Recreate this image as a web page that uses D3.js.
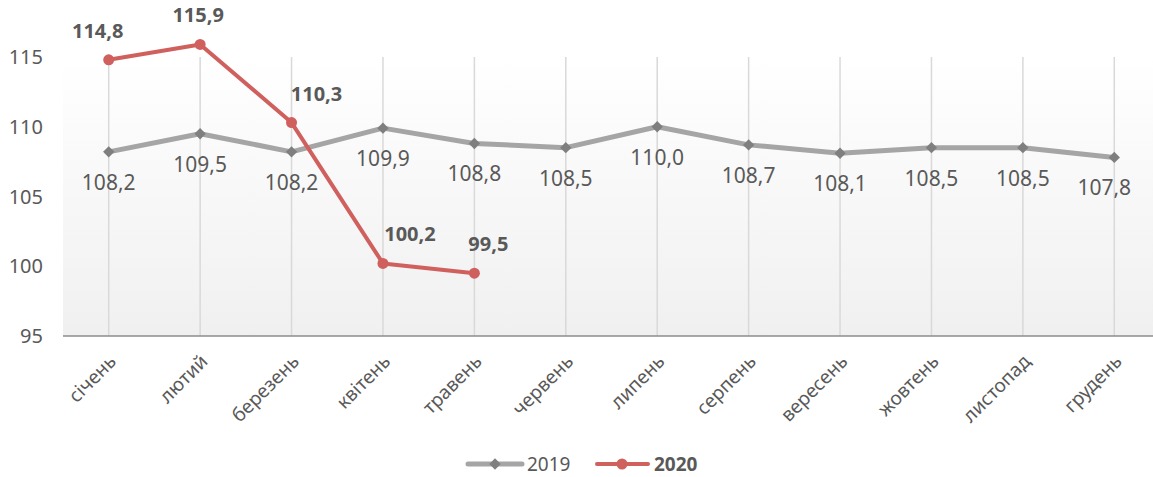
<!DOCTYPE html>
<html>
<head>
<meta charset="utf-8">
<script src="https://cdn.jsdelivr.net/npm/d3@7"></script>
<style>
  body { margin: 0; background: #fff; overflow: hidden; }
  svg { font-family: "Noto Sans", "Open Sans", sans-serif; display: block; }
</style>
</head>
<body>
<div id="chart"></div>
<script>
// Data
var months = ["січень", "лютий", "березень", "квітень", "травень", "червень",
  "липень", "серпень", "вересень", "жовтень", "листопад", "грудень"];
var values2019 = [108.2, 109.5, 108.2, 109.9, 108.8, 108.5, 110.0, 108.7, 108.1, 108.5, 108.5, 107.8];
var values2020 = [114.8, 115.9, 110.3, 100.2, 99.5];
var yTicks = [95, 100, 105, 110, 115];
// nudges for the bold 2020 labels (px)
var label2020Dx = [-11, -2, 25, 27, 14];

var svgWidth = 1153;
var svgHeight = 477;

var svg = d3.select("#chart")
  .append("svg")
  .attr("width", svgWidth)
  .attr("height", svgHeight);

var plotLeft = 63, plotRight = 1160, plotTop = 57, plotBottom = 336;

var x = d3.scaleBand()
  .domain(months)
  .range([plotLeft, plotRight]);

var y = d3.scaleLinear()
  .domain([95, 115])
  .range([plotBottom, plotTop]);

var cx = d => x(d) + x.bandwidth() / 2;

// background gradient
var defs = svg.append("defs");
var grad = defs.append("linearGradient")
  .attr("id", "bg")
  .attr("x1", 0).attr("y1", 0).attr("x2", 0).attr("y2", 1);
grad.append("stop").attr("offset", "0%").attr("stop-color", "#ffffff");
grad.append("stop").attr("offset", "100%").attr("stop-color", "#f0f0f0");

svg.append("rect")
  .attr("x", plotLeft)
  .attr("y", plotTop)
  .attr("width", plotRight - plotLeft)
  .attr("height", plotBottom - plotTop)
  .attr("fill", "url(#bg)");

// vertical gridlines
svg.append("g")
  .selectAll("line")
  .data(months)
  .enter().append("line")
  .attr("x1", d => cx(d))
  .attr("x2", d => cx(d))
  .attr("y1", plotTop)
  .attr("y2", plotBottom)
  .attr("stroke", "#d9d9d9")
  .attr("stroke-width", 1.5);

// y axis labels
svg.append("g")
  .selectAll("text")
  .data(yTicks)
  .enter().append("text")
  .attr("x", 43)
  .attr("y", d => y(d))
  .attr("dy", "0.35em")
  .attr("text-anchor", "end")
  .attr("font-size", "20px")
  .attr("fill", "#595959")
  .text(d => d);

// x axis line
svg.append("line")
  .attr("x1", plotLeft)
  .attr("x2", plotRight)
  .attr("y1", plotBottom)
  .attr("y2", plotBottom)
  .attr("stroke", "#8c8c8c")
  .attr("stroke-width", 1.5);

// x axis labels
svg.append("g")
  .selectAll("text")
  .data(months)
  .enter().append("text")
  .attr("transform", d => `translate(${cx(d) + 4}, ${plotBottom + 22}) rotate(-45)`)
  .attr("text-anchor", "end")
  .attr("dy", "0.35em")
  .attr("font-size", "19px")
  .attr("fill", "#595959")
  .text(d => d);

var line = d3.line()
  .x((d, i) => cx(months[i]))
  .y(d => y(d));

// 2019
svg.append("path")
  .datum(values2019)
  .attr("d", line)
  .attr("fill", "none")
  .attr("stroke", "#a5a5a5")
  .attr("stroke-width", 5)
  .attr("stroke-linejoin", "round");

svg.append("g")
  .selectAll("path")
  .data(values2019)
  .enter().append("path")
  .attr("d", d3.symbol().type(d3.symbolSquare).size(64))
  .attr("transform", (d, i) => `translate(${cx(months[i])}, ${y(d)}) rotate(45)`)
  .attr("fill", "#7f7f7f");

svg.append("g")
  .selectAll("text")
  .data(values2019)
  .enter().append("text")
  .attr("x", (d, i) => cx(months[i]) + (i === 11 ? -10 : 0))
  .attr("y", d => y(d) + 38)
  .attr("text-anchor", "middle")
  .attr("font-size", "21px")
  .attr("fill", "#595959")
  .text(d => d.toFixed(1).replace(".", ","));

// 2020
svg.append("path")
  .datum(values2020)
  .attr("d", line)
  .attr("fill", "none")
  .attr("stroke", "#d0605e")
  .attr("stroke-width", 4)
  .attr("stroke-linejoin", "round");

svg.append("g")
  .selectAll("circle")
  .data(values2020)
  .enter().append("circle")
  .attr("cx", (d, i) => cx(months[i]))
  .attr("cy", d => y(d))
  .attr("r", 5.5)
  .attr("fill", "#d0605e");

svg.append("g")
  .selectAll("text")
  .data(values2020)
  .enter().append("text")
  .attr("x", (d, i) => cx(months[i]) + label2020Dx[i])
  .attr("y", d => y(d) - 22)
  .attr("text-anchor", "middle")
  .attr("font-size", "20px")
  .attr("font-weight", "bold")
  .attr("fill", "#595959")
  .text(d => d.toFixed(1).replace(".", ","));

// legend
var legend = svg.append("g").attr("transform", "translate(0, 464)");
legend.append("line")
  .attr("x1", 468).attr("x2", 522).attr("y1", 0).attr("y2", 0)
  .attr("stroke", "#a5a5a5").attr("stroke-width", 5).attr("stroke-linecap", "round");
legend.append("path")
  .attr("d", d3.symbol().type(d3.symbolSquare).size(64))
  .attr("transform", "translate(495, 0) rotate(45)")
  .attr("fill", "#7f7f7f");
legend.append("text")
  .attr("x", 527).attr("y", 0).attr("dy", "0.35em")
  .attr("font-size", "19px").attr("fill", "#595959")
  .text("2019");
legend.append("line")
  .attr("x1", 597).attr("x2", 648).attr("y1", 0).attr("y2", 0)
  .attr("stroke", "#d0605e").attr("stroke-width", 4).attr("stroke-linecap", "round");
legend.append("circle")
  .attr("cx", 622).attr("cy", 0).attr("r", 5.5)
  .attr("fill", "#d0605e");
legend.append("text")
  .attr("x", 654).attr("y", 0).attr("dy", "0.35em")
  .attr("font-size", "19px").attr("font-weight", "bold").attr("fill", "#595959")
  .text("2020");
</script>
</body>
</html>
